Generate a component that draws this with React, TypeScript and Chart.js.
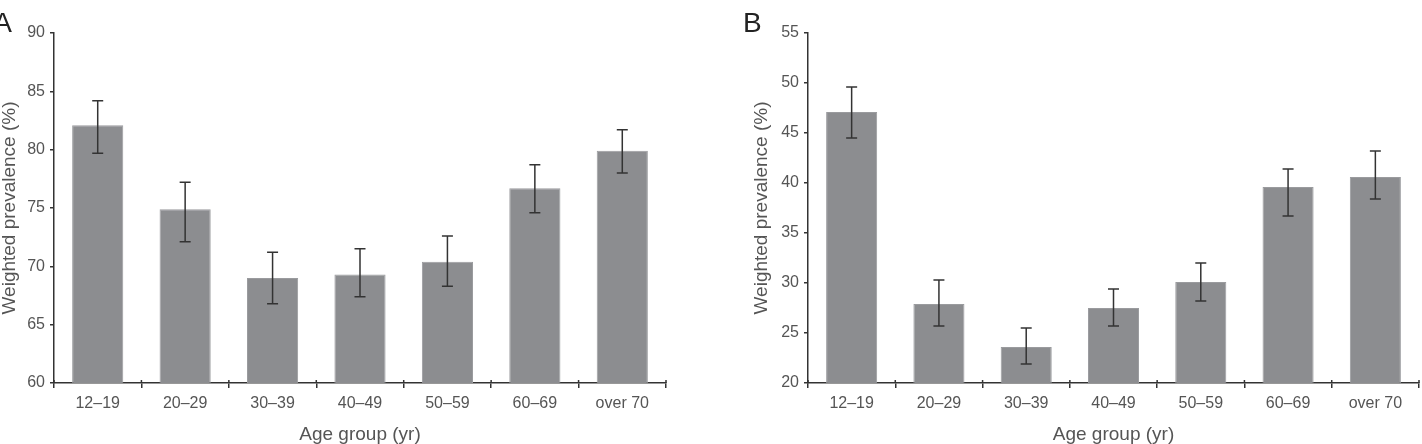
import React, { useEffect, useRef } from "react";
import { Chart, registerables } from "chart.js";

Chart.register(...registerables);

const categories = ["12–19", "20–29", "30–39", "40–49", "50–59", "60–69", "over 70"];

const prevalenceA = [82.1, 74.9, 69.0, 69.3, 70.4, 76.7, 79.9];
const errLowA = [79.7, 72.1, 66.8, 67.4, 68.3, 74.6, 78.0];
const errHighA = [84.2, 77.2, 71.2, 71.5, 72.6, 78.7, 81.7];

const prevalenceB = [47.1, 27.9, 23.6, 27.5, 30.1, 39.6, 40.6];
const errLowB = [44.5, 25.7, 21.9, 25.7, 28.2, 36.7, 38.4];
const errHighB = [49.6, 30.3, 25.5, 29.4, 32.0, 41.4, 43.2];

const yRangeA = { min: 60, max: 90, step: 5 };
const yRangeB = { min: 20, max: 55, step: 5 };

const FONT = "'Liberation Sans', Arial, Helvetica, sans-serif";
const AXIS = "#333333";
const TEXT = "#555555";

type PanelProps = {
  letter: string;
  letterX: number;
  letterAlign: CanvasTextAlign;
  values: number[];
  low: number[];
  high: number[];
  range: { min: number; max: number; step: number };
  width: number;
  padLeft: number;
  yWidth: number;
  padRight: number;
};

function Panel(p: PanelProps) {
  const ref = useRef<HTMLCanvasElement | null>(null);
  useEffect(() => {
    if (!ref.current) return;
    const extras = {
      id: "extras",
      afterDatasetsDraw(chart: any) {
        const ctx = chart.ctx;
        const meta = chart.getDatasetMeta(0);
        const ys = chart.scales.y;
        ctx.save();
        ctx.strokeStyle = AXIS;
        ctx.lineWidth = 1.5;
        meta.data.forEach((bar: any, i: number) => {
          const x = bar.x;
          const yh = ys.getPixelForValue(p.high[i]);
          const yl = ys.getPixelForValue(p.low[i]);
          ctx.beginPath();
          ctx.moveTo(x, yh);
          ctx.lineTo(x, yl);
          ctx.moveTo(x - 5.5, yh);
          ctx.lineTo(x + 5.5, yh);
          ctx.moveTo(x - 5.5, yl);
          ctx.lineTo(x + 5.5, yl);
          ctx.stroke();
        });
        // upward part of x-axis boundary ticks
        const xs = chart.scales.x;
        const bottom = chart.chartArea.bottom;
        const n = p.values.length;
        const step = (xs.right - xs.left) / n;
        ctx.beginPath();
        for (let i = 0; i <= n; i++) {
          const x = xs.left + step * i;
          ctx.moveTo(x, bottom);
          ctx.lineTo(x, bottom - 3);
        }
        ctx.stroke();
        ctx.restore();
      },
      afterDraw(chart: any) {
        const ctx = chart.ctx;
        ctx.save();
        ctx.fillStyle = "#222222";
        ctx.font = `28px ${FONT}`;
        ctx.textAlign = p.letterAlign;
        ctx.textBaseline = "alphabetic";
        ctx.fillText(p.letter, p.letterX, 32);
        ctx.restore();
      },
    };
    const chart = new Chart(ref.current, {
      type: "bar",
      data: {
        labels: categories,
        datasets: [
          {
            data: p.values,
            backgroundColor: "#8c8d90",
            borderColor: "#9a9b9e",
            borderWidth: 1,
            barPercentage: 0.585,
            categoryPercentage: 1,
          },
        ],
      },
      options: {
        responsive: false,
        animation: false,
        events: [],
        layout: { padding: { left: p.padLeft, right: p.padRight, top: 33, bottom: 0 } },
        plugins: { legend: { display: false }, tooltip: { enabled: false } },
        scales: {
          x: {
            afterFit: (s: any) => {
              s.height = 61;
            },
            grid: {
              offset: true,
              drawOnChartArea: false,
              drawTicks: true,
              tickLength: 5,
              color: AXIS,
              lineWidth: 1.5,
            },
            border: { display: true, color: AXIS, width: 1.5 },
            ticks: { color: TEXT, font: { family: FONT, size: 16 }, padding: 6, maxRotation: 0 },
            title: {
              display: true,
              text: "Age group (yr)",
              color: TEXT,
              font: { family: FONT, size: 19, lineHeight: 1 },
              padding: { top: 0, bottom: 0 },
            },
          },
          y: {
            min: p.range.min,
            max: p.range.max,
            afterFit: (s: any) => {
              s.width = p.yWidth;
            },
            grid: {
              drawOnChartArea: false,
              drawTicks: true,
              tickLength: 4,
              color: AXIS,
              lineWidth: 1.5,
            },
            border: { display: true, color: AXIS, width: 1.5 },
            ticks: {
              stepSize: p.range.step,
              color: TEXT,
              font: { family: FONT, size: 16 },
              padding: 5,
            },
            title: {
              display: true,
              text: "Weighted prevalence (%)",
              color: TEXT,
              font: { family: FONT, size: 19, lineHeight: 1 },
              padding: { top: 0, bottom: 0 },
            },
          },
        },
      },
      plugins: [extras],
    } as any);
    return () => chart.destroy();
  }, []);
  return <canvas ref={ref} width={p.width} height={444} style={{ display: "block", width: p.width, height: 444 }} />;
}

export default function App() {
  return (
    <div style={{ position: "absolute", left: 0, top: 0, width: 1422, height: 444, background: "#fff", display: "flex" }}>
      <Panel
        letter="A"
        letterX={12}
        letterAlign="right"
        values={prevalenceA}
        low={errLowA}
        high={errHighA}
        range={yRangeA}
        width={740}
        padLeft={0}
        yWidth={54}
        padRight={74}
      />
      <Panel
        letter="B"
        letterX={3}
        letterAlign="left"
        values={prevalenceB}
        low={errLowB}
        high={errHighB}
        range={yRangeB}
        width={682}
        padLeft={12}
        yWidth={56}
        padRight={3}
      />
    </div>
  );
}
